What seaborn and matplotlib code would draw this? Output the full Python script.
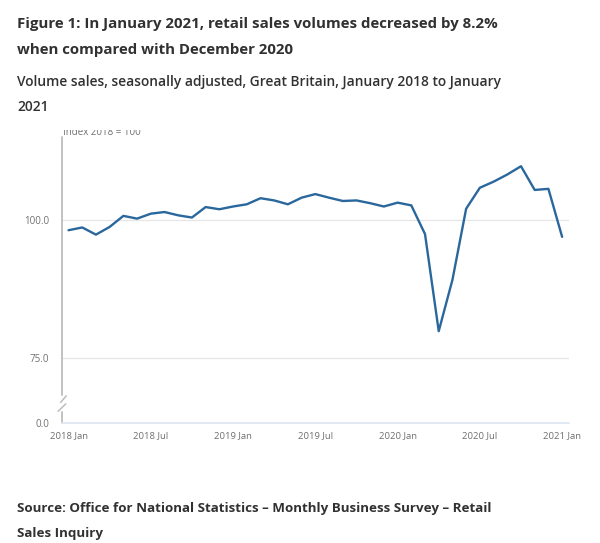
import numpy as np
import pandas as pd
import matplotlib
matplotlib.use('Agg')
import matplotlib.pyplot as plt
import seaborn as sns
from matplotlib.transforms import Bbox

# data (index 2018 = 100)
months = pd.date_range('2018-01-01', '2021-01-01', freq='MS')
volume = [98.1, 98.6, 97.3, 98.7, 100.7, 100.2, 101.1, 101.4, 100.8, 100.4, 102.3, 101.9,
          102.4, 102.8, 103.9, 103.5, 102.8, 104.0, 104.65, 104.0, 103.4, 103.5, 103.0, 102.4,
          103.1, 102.6, 97.4, 79.8, 89.1, 102.0, 105.8, 106.9, 108.2, 109.7, 105.4, 105.6,
          96.9]
tick_labels = ['2018 Jan', '2018 Jul', '2019 Jan', '2019 Jul', '2020 Jan', '2020 Jul', '2021 Jan']
y_ticks = [0, 75, 100]

df = pd.DataFrame({'m': np.arange(len(months)), 'volume': volume})

sns.set_theme(style='white')
plt.rcParams['font.family'] = ['Open Sans', 'DejaVu Sans']

TXT = '#323132'
GREY = '#707070'
BLUE = '#2a679c'

fig = plt.figure(figsize=(6, 5.43), dpi=100)
ax = fig.add_axes([0.1028, 0.2215, 0.8455, 0.5262])

# broken axis: 0..75 squeezed into a short band
SQ = 11.8


def fwd(y):
    y = np.asarray(y, dtype=float)
    return np.where(y >= 75, y, 75 - (75 - y) * SQ / 75)


def inv(y):
    y = np.asarray(y, dtype=float)
    return np.where(y >= 75, y, 75 - (75 - y) * 75 / SQ)


ax.set_yscale('function', functions=(fwd, inv))

sns.lineplot(data=df, x='m', y='volume', ax=ax, color=BLUE, linewidth=1.7)

ax.set_ylim(0, 115)
ax.set_xlim(-0.5, 36.5)

for v in [75, 100]:
    ax.axhline(v, color='#e6e6e6', linewidth=0.9, zorder=0)

ax.set_yticks(y_ticks)
ax.set_yticklabels(['%.1f' % v for v in y_ticks], fontsize=7, color=GREY)
ax.set_xticks(np.arange(0, 37, 6))
ax.set_xticklabels(tick_labels, fontsize=6.8, color=GREY)
ax.tick_params(axis='y', length=0, pad=9)
ax.tick_params(axis='x', length=4, width=0.8, color='#d0dceb', pad=2)
ax.set_xlabel('')
ax.set_ylabel('')

for s in ['top', 'right', 'left']:
    ax.spines[s].set_visible(False)
ax.spines['bottom'].set_color('#dde5f0')
ax.spines['bottom'].set_linewidth(1.2)

# left axis with break marks
axc = ax.transAxes
ax.plot([0, 0], [1, 0.097], transform=axc, color='#bdbdbd', lw=1.3, clip_on=False)
ax.plot([0, 0], [0.0375, 0], transform=axc, color='#bdbdbd', lw=1.3, clip_on=False)
ax.plot([0.009, -0.002], [0.094, 0.071], transform=axc, color='#bdbdbd', lw=1.1, clip_on=False)
ax.plot([0.008, -0.007], [0.066, 0.04], transform=axc, color='#bdbdbd', lw=1.1, clip_on=False)

# axis caption, top partly hidden as in the original
cap = fig.text(63 / 600, 1 - 135 / 543, 'Index 2018 = 100', fontsize=7, color=GREY, va='baseline')
cap.set_clip_box(Bbox.from_extents(0, 0, 600, 543 - 130))
cap.set_clip_on(True)

fig.text(17 / 600, 1 - 28 / 543, 'Figure 1: In January 2021, retail sales volumes decreased by 8.2%',
         fontsize=10.85, fontweight='bold', color=TXT, va='baseline')
fig.text(17 / 600, 1 - 54 / 543, 'when compared with December 2020',
         fontsize=10.85, fontweight='bold', color=TXT, va='baseline')
fig.text(17 / 600, 1 - 86 / 543, 'Volume sales, seasonally adjusted, Great Britain, January 2018 to January',
         fontsize=9.9, fontweight='semibold', color=TXT, va='baseline')
fig.text(17 / 600, 1 - 111 / 543, '2021', fontsize=9.9, fontweight='semibold', color=TXT, va='baseline')

fig.text(17 / 600, 1 - 512 / 543, 'Source: Office for National Statistics – Monthly Business Survey – Retail',
         fontsize=9.6, fontweight='bold', color=TXT, va='baseline')
fig.text(17 / 600, 1 - 537 / 543, 'Sales Inquiry', fontsize=9.6, fontweight='bold', color=TXT, va='baseline')

fig.savefig('out.png', dpi=100)
